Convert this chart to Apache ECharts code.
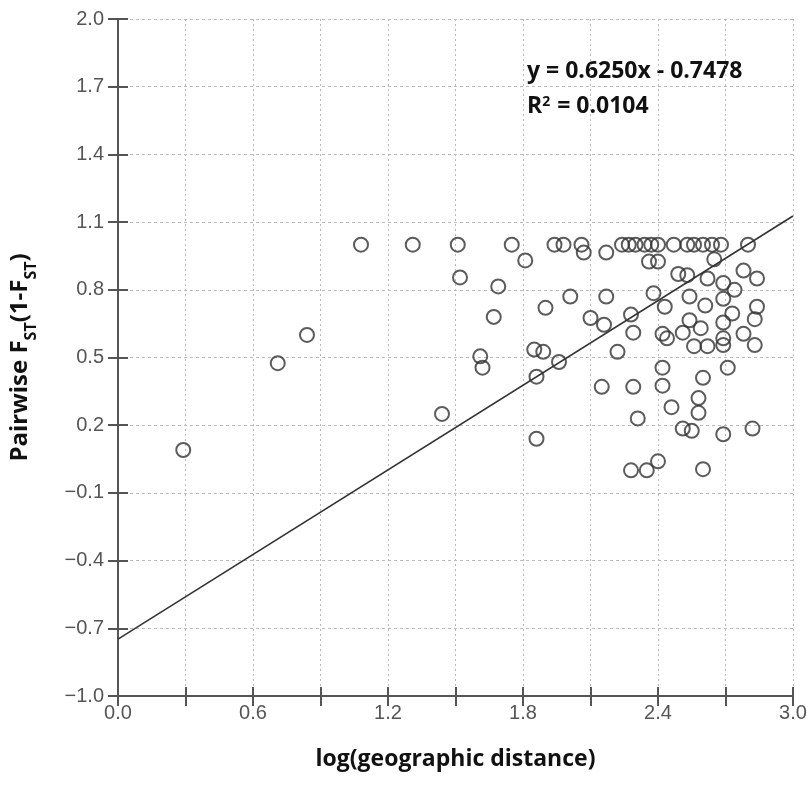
<!DOCTYPE html>
<html>
<head>
<meta charset="utf-8">
<script src="https://cdn.jsdelivr.net/npm/echarts@6/dist/echarts.min.js"></script>
<style>
  html, body { margin: 0; padding: 0; background: #fff; }
  #main { width: 812px; height: 790px; }
</style>
</head>
<body>
<div id="main"></div>
<script>
// log(geographic distance) vs pairwise Fst/(1-Fst)
let distX = [
    0.29, 0.71, 0.84, 1.08, 1.31, 1.44, 1.51, 1.52, 1.61, 1.62,
    1.67, 1.69, 1.75, 1.81, 1.85, 1.89, 1.86, 1.86, 1.90, 1.94,
    1.98, 1.96, 2.01, 2.06, 2.07, 2.10, 2.16, 2.15, 2.17, 2.17,
    2.22, 2.24, 2.27, 2.30, 2.28, 2.28, 2.29, 2.29, 2.31, 2.34,
    2.37, 2.40, 2.35, 2.36, 2.40, 2.38, 2.40, 2.42, 2.44, 2.42,
    2.42, 2.43, 2.46, 2.47, 2.49, 2.53, 2.53, 2.56, 2.54, 2.54,
    2.51, 2.51, 2.55, 2.56, 2.58, 2.58, 2.59, 2.60, 2.60, 2.60,
    2.61, 2.62, 2.62, 2.64, 2.65, 2.68, 2.69, 2.69, 2.69, 2.69,
    2.69, 2.69, 2.71, 2.73, 2.74, 2.78, 2.78, 2.80, 2.82, 2.83,
    2.83, 2.84, 2.84
];
let fstY = [
    0.09, 0.475, 0.60, 1.00, 1.00, 0.25, 1.00, 0.855, 0.505, 0.455,
    0.68, 0.815, 1.00, 0.93, 0.535, 0.525, 0.14, 0.415, 0.72, 1.00,
    1.00, 0.48, 0.77, 1.00, 0.965, 0.675, 0.645, 0.37, 0.965, 0.77,
    0.525, 1.00, 1.00, 1.00, 0.69, 0.00, 0.61, 0.37, 0.23, 1.00,
    1.00, 1.00, 0.00, 0.925, 0.925, 0.785, 0.04, 0.605, 0.585, 0.455,
    0.375, 0.725, 0.28, 1.00, 0.87, 0.865, 1.00, 1.00, 0.77, 0.665,
    0.61, 0.185, 0.175, 0.55, 0.32, 0.255, 0.63, 1.00, 0.41, 0.005,
    0.73, 0.85, 0.55, 1.00, 0.935, 1.00, 0.655, 0.585, 0.555, 0.16,
    0.83, 0.76, 0.455, 0.695, 0.80, 0.605, 0.885, 1.00, 0.185, 0.67,
    0.555, 0.85, 0.725
];
// fitted line y = 0.6250x - 0.7478 at the ends of the x range
let fitX = [0.0, 3.0];
let fitY = [-0.7478, 1.1272];

let yTicks = [-1.0, -0.7, -0.4, -0.1, 0.2, 0.5, 0.8, 1.1, 1.4, 1.7, 2.0];
let xLabelTicks = [0.0, 0.6, 1.2, 1.8, 2.4, 3.0];

let chart = echarts.init(document.getElementById("main"));

let points = distX.map(function (x, i) {
    return [x, fstY[i]];
});
let fitLine = fitX.map(function (x, i) {
    return [x, fitY[i]];
});

let labelFont = {
    color: "#555",
    fontFamily: "Liberation Sans",
    fontSize: 20,
};
let titleFont = {
    fontFamily: "Open Sans",
    fontWeight: "bold",
    fontSize: 23,
    color: "#111",
};

function fmtX(v) {
    for (let i = 0; i < xLabelTicks.length; i++) {
        if (Math.abs(v - xLabelTicks[i]) < 1e-6) return v.toFixed(1);
    }
    return "";
}
function fmtY(v) {
    for (let i = 0; i < yTicks.length; i++) {
        if (Math.abs(v - yTicks[i]) < 1e-6) return v.toFixed(1).replace("-", "\u2212");
    }
    return "";
}

chart.setOption({
    animation: false,
    backgroundColor: "#fff",
    grid: { left: 118, right: 19, top: 19, bottom: 94 },
    xAxis: [
        {
            type: "value",
            min: 0,
            max: 3.0,
            interval: 0.3,
            name: "log(geographic distance)",
            nameLocation: "middle",
            nameGap: 52,
            nameTextStyle: titleFont,
            axisLine: { onZero: false, lineStyle: { color: "#555", width: 2 } },
            axisTick: { length: 10, lineStyle: { color: "#555", width: 2 } },
            axisLabel: Object.assign({ margin: 7, formatter: fmtX }, labelFont),
            splitLine: {
                show: true,
                lineStyle: { color: "#bbb", type: [2, 3], width: 1 },
            },
        },
        {
            // inner half of the crossing ticks
            type: "value",
            position: "bottom",
            min: 0,
            max: 3.0,
            interval: 0.3,
            axisLine: { show: false, onZero: false },
            axisTick: { inside: true, length: 9, lineStyle: { color: "#555", width: 2 } },
            axisLabel: { show: false },
            splitLine: { show: false },
        },
    ],
    yAxis: [
        {
            type: "value",
            min: -1.0,
            max: 2.0,
            interval: 0.3,
            name: "Pairwise F{s|ST}(1-F{s|ST})",
            nameLocation: "middle",
            nameGap: 86,
            nameTextStyle: Object.assign({}, titleFont, {
                fontSize: 24,
                rich: {
                    s: {
                        fontFamily: "Open Sans",
                        fontWeight: "bold",
                        fontSize: 16,
                        color: "#111",
                        verticalAlign: "bottom",
                        padding: [0, 0, -7, 0],
                    },
                },
            }),
            axisLine: { onZero: false, lineStyle: { color: "#555", width: 2 } },
            axisTick: { length: 10, lineStyle: { color: "#555", width: 2 } },
            axisLabel: Object.assign({ margin: 14, formatter: fmtY }, labelFont),
            splitLine: {
                show: true,
                lineStyle: { color: "#bbb", type: [3, 3], width: 1 },
            },
        },
        {
            type: "value",
            position: "left",
            min: -1.0,
            max: 2.0,
            interval: 0.3,
            axisLine: { show: false, onZero: false },
            axisTick: { inside: true, length: 10, lineStyle: { color: "#555", width: 2 } },
            axisLabel: { show: false },
            splitLine: { show: false },
        },
    ],
    graphic: [
        {
            type: "text",
            left: 527,
            top: 60,
            style: {
                text: "y = 0.6250x - 0.7478",
                fontFamily: "Open Sans",
                fontWeight: "bold",
                fontSize: 23,
                fill: "#111",
            },
        },
        {
            type: "text",
            left: 527,
            top: 95,
            style: {
                text: "R{p|2} = 0.0104",
                fontFamily: "Open Sans",
                fontWeight: "bold",
                fontSize: 23,
                fill: "#111",
                rich: {
                    p: {
                        fontFamily: "Open Sans",
                        fontWeight: "bold",
                        fontSize: 14,
                        fill: "#111",
                        verticalAlign: "top",
                        padding: [0, 1, 9, 0],
                    },
                },
            },
        },
    ],
    series: [
        {
            name: "fit",
            type: "line",
            data: fitLine,
            symbol: "none",
            silent: true,
            lineStyle: { color: "#333", width: 1.6 },
            z: 3,
        },
        {
            name: "pairs",
            type: "scatter",
            data: points,
            symbol: "circle",
            symbolSize: 14,
            itemStyle: {
                color: "rgba(0,0,0,0)",
                borderColor: "#333",
                borderWidth: 2,
            },
            z: 4,
        },
    ],
});

window.onresize = function () {
    chart.resize();
};
</script>
</body>
</html>
